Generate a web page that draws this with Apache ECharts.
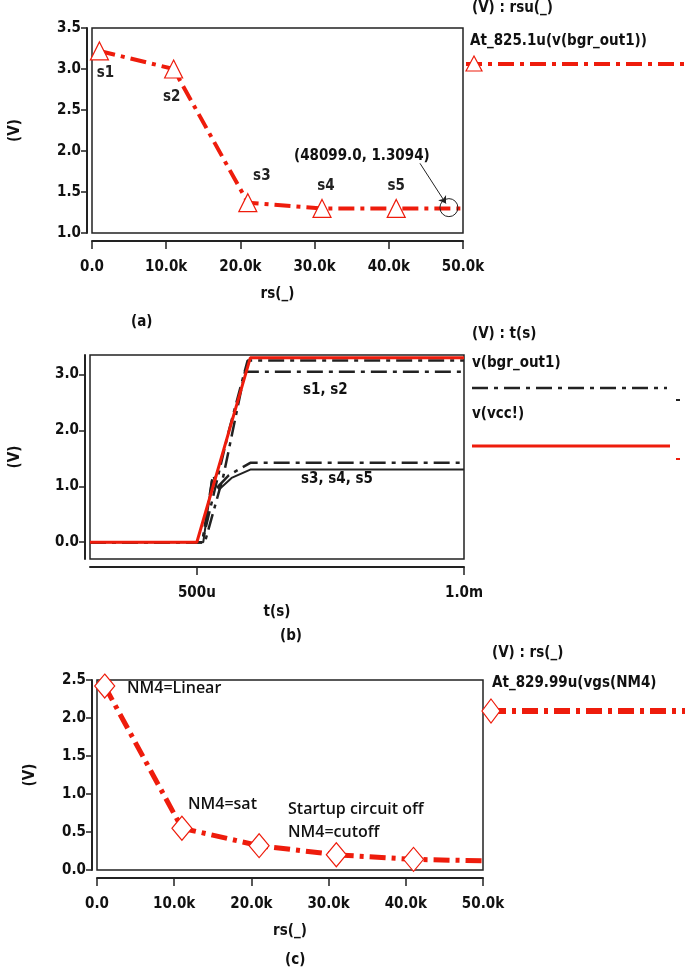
<!DOCTYPE html>
<html>
<head>
<meta charset="utf-8">
<script src="https://cdn.jsdelivr.net/npm/echarts@6/dist/echarts.min.js"></script>
<style>html,body{margin:0;background:#fff}#container{width:685px;height:973px}</style>
</head>
<body>
<div id="container"></div>
<script>
// (a) bandgap output vs rs
let rsA = [1000, 11000, 21000, 31000, 41000, 50000];
let vA = [3.22, 3.0, 1.37, 1.3, 1.3, 1.3];
let namesA = ['s1', 's2', 's3', 's4', 's5', ''];

// (b) transient, time in us
let tVcc = [300, 500, 600, 1000];
let vVcc = [0, 0, 3.3, 3.3];
let tS1 = [300, 510, 560, 595, 1000];
let vS1 = [0, 0, 2.0, 3.25, 3.25];
let tS2 = [300, 515, 550, 590, 1000];
let vS2 = [0, 0, 1.2, 3.05, 3.05];
let tS3 = [300, 510, 530, 540, 560, 600, 1000];
let vS3 = [0, 0, 1.2, 1.0, 1.2, 1.42, 1.42];
let tS4 = [300, 512, 528, 542, 565, 600, 1000];
let vS4 = [0, 0, 1.1, 0.95, 1.15, 1.3, 1.3];

// (c) vgs of NM4 vs rs
let rsC = [1000, 11000, 21000, 31000, 41000, 50000];
let vC = [2.42, 0.55, 0.32, 0.2, 0.14, 0.12];

const RED = '#ee1c0c';
const FONT = "'DejaVu Sans Condensed', 'Liberation Sans', sans-serif";
const dashDot = [16, 6, 4, 6];
const TF = 'bold 15px ' + FONT;

function zip(a, b) { return a.map((x, i) => [x, b[i]]); }
function kfmt(v) { return v === 0 ? '0.0' : (v / 1000).toFixed(1) + 'k'; }

var dom = document.getElementById('container');
var myChart = echarts.init(dom, null, { renderer: 'canvas' });

var axisText = { color: '#111', fontFamily: FONT, fontWeight: 'bold', fontSize: 15 };

function xAx(i, opts) {
    return Object.assign({
        gridIndex: i, type: 'value', offset: 8,
        axisLine: { show: true, onZero: false, lineStyle: { color: '#222', width: 2 } },
        axisTick: { show: true, length: 8, lineStyle: { color: '#222', width: 1.5 } },
        axisLabel: Object.assign({ margin: 19 }, axisText),
        splitLine: { show: false },
        nameLocation: 'middle', nameGap: 46,
        nameTextStyle: axisText
    }, opts);
}
function yAx(i, opts) {
    return Object.assign({
        gridIndex: i, type: 'value', offset: 5,
        axisLine: { show: true, onZero: false, lineStyle: { color: '#222', width: 2 } },
        axisTick: { show: true, length: 6, lineStyle: { color: '#222', width: 1.5 } },
        axisLabel: Object.assign({ margin: 6, formatter: v => v.toFixed(1) }, axisText),
        splitLine: { show: false },
        name: '(V)', nameLocation: 'middle', nameGap: 64, nameRotate: 90,
        nameTextStyle: axisText
    }, opts);
}

var labelPosA = ['bottom', 'bottom', 'top', 'top', 'top', 'top'];
var labelOffA = [[6, 0], [-2, 6], [14, -4], [4, 0], [0, 0], [0, 0]];

var option = {
    animation: false,
    grid: [
        { left: 90, width: 373, top: 28, height: 205, show: true, borderColor: '#222', borderWidth: 1.5 },
        { left: 90, width: 374, top: 355, height: 204, show: true, borderColor: '#222', borderWidth: 1.5 },
        { left: 97, width: 386, top: 680, height: 190, show: true, borderColor: '#222', borderWidth: 1.5 }
    ],
    xAxis: [
        xAx(0, { min: 0, max: 50000, interval: 10000, name: 'rs(_)', axisLabel: Object.assign({ margin: 19, formatter: kfmt }, axisText) }),
        xAx(1, { min: 300, max: 1000, name: 't(s)', nameGap: 38,
            axisTick: { show: true, length: 8, customValues: [500, 1000], lineStyle: { color: '#222', width: 1.5 } },
            axisLabel: Object.assign({ margin: 19, customValues: [500, 1000], formatter: v => v === 500 ? '500u' : '1.0m' }, axisText) }),
        xAx(2, { min: 0, max: 50000, interval: 10000, name: 'rs(_)', nameGap: 46, axisLabel: Object.assign({ margin: 19, formatter: kfmt }, axisText) })
    ],
    yAxis: [
        yAx(0, { min: 1, max: 3.5, interval: 0.5 }),
        yAx(1, { min: -0.3, max: 3.35, nameGap: 62,
            axisTick: { show: true, length: 6, customValues: [0, 1, 2, 3], lineStyle: { color: '#222', width: 1.5 } },
            axisLabel: Object.assign({ margin: 6, customValues: [0, 1, 2, 3], formatter: v => v.toFixed(1) }, axisText) }),
        yAx(2, { min: 0, max: 2.5, interval: 0.5, nameGap: 54 })
    ],
    series: [
        {
            type: 'line', xAxisIndex: 0, yAxisIndex: 0,
            data: rsA.map((x, i) => ({
                value: [x, vA[i]],
                symbol: i < 5 ? 'triangle' : 'none',
                label: { show: i < 5, formatter: namesA[i], position: labelPosA[i], offset: labelOffA[i] }
            })),
            symbolSize: 18,
            itemStyle: { color: '#fff', borderColor: RED, borderWidth: 1.2 },
            lineStyle: { color: RED, width: 4, type: dashDot },
            label: { color: '#222', fontFamily: FONT, fontWeight: 'bold', fontSize: 15 },
            markPoint: {
                symbol: 'circle', symbolSize: 18,
                itemStyle: { color: 'rgba(0,0,0,0)', borderColor: '#222', borderWidth: 1 },
                label: { show: false },
                data: [{ coord: [48099, 1.3094] }]
            },
            markLine: {
                silent: true, symbol: ['none', 'arrow'], symbolSize: 7,
                lineStyle: { color: '#222', width: 1, type: 'solid' },
                label: { show: false },
                data: [[{ coord: [44200, 1.85] }, { coord: [47700, 1.36] }]]
            }
        },
        { type: 'line', xAxisIndex: 1, yAxisIndex: 1, data: zip(tS1, vS1), symbol: 'none', lineStyle: { color: '#222', width: 2.5, type: dashDot } },
        { type: 'line', xAxisIndex: 1, yAxisIndex: 1, data: zip(tS2, vS2), symbol: 'none', lineStyle: { color: '#222', width: 2.5, type: dashDot } },
        { type: 'line', xAxisIndex: 1, yAxisIndex: 1, data: zip(tS3, vS3), symbol: 'none', lineStyle: { color: '#222', width: 2.5, type: dashDot } },
        { type: 'line', xAxisIndex: 1, yAxisIndex: 1, data: zip(tS4, vS4), symbol: 'none', lineStyle: { color: '#222', width: 2 } },
        { type: 'line', xAxisIndex: 1, yAxisIndex: 1, data: zip(tVcc, vVcc), symbol: 'none', lineStyle: { color: RED, width: 3 } },
        {
            type: 'line', xAxisIndex: 2, yAxisIndex: 2,
            data: rsC.map((x, i) => ({ value: [x, vC[i]], symbol: i < 5 ? 'diamond' : 'none' })),
            symbolSize: [20, 24],
            itemStyle: { color: '#fff', borderColor: RED, borderWidth: 1.2 },
            lineStyle: { color: RED, width: 5, type: dashDot }
        }
    ],
    graphic: [
        // panel captions
        { type: 'text', left: 131, top: 315, style: { text: '(a)', font: TF, fill: '#111' } },
        { type: 'text', left: 280, top: 629, style: { text: '(b)', font: TF, fill: '#111' } },
        { type: 'text', left: 285, top: 953, style: { text: '(c)', font: TF, fill: '#111' } },
        // (a) annotation + legend
        { type: 'text', left: 294, top: 149, style: { text: '(48099.0, 1.3094)', font: TF, fill: '#111' } },
        { type: 'text', left: 472, top: 1, style: { text: '(V) : rsu(_)', font: TF, fill: '#111' } },
        { type: 'text', left: 470, top: 34, style: { text: 'At_825.1u(v(bgr_out1))', font: TF, fill: '#111' } },
        { type: 'line', shape: { x1: 466, y1: 64, x2: 685, y2: 64 }, style: { stroke: RED, lineWidth: 4, lineDash: dashDot } },
        { type: 'polygon', shape: { points: [[474, 56], [466, 71], [482, 71]] }, style: { fill: '#fff', stroke: RED, lineWidth: 1.2 } },
        // (b) text + legend
        { type: 'text', left: 303, top: 383, style: { text: 's1, s2', font: TF, fill: '#111' } },
        { type: 'text', left: 301, top: 472, style: { text: 's3, s4, s5', font: TF, fill: '#111' } },
        { type: 'text', left: 472, top: 327, style: { text: '(V) : t(s)', font: TF, fill: '#111' } },
        { type: 'text', left: 472, top: 356, style: { text: 'v(bgr_out1)', font: TF, fill: '#111' } },
        { type: 'line', shape: { x1: 472, y1: 388, x2: 667, y2: 388 }, style: { stroke: '#222', lineWidth: 2.5, lineDash: dashDot } },
        { type: 'line', shape: { x1: 676, y1: 400, x2: 680, y2: 400 }, style: { stroke: '#222', lineWidth: 2 } },
        { type: 'text', left: 472, top: 407, style: { text: 'v(vcc!)', font: TF, fill: '#111' } },
        { type: 'line', shape: { x1: 472, y1: 446, x2: 670, y2: 446 }, style: { stroke: RED, lineWidth: 3 } },
        { type: 'line', shape: { x1: 676, y1: 459, x2: 680, y2: 459 }, style: { stroke: RED, lineWidth: 2 } },
        // (c) texts + legend
        { type: 'text', left: 127, top: 680, style: { text: 'NM4=Linear', font: '600 16px "Open Sans"', fill: '#111' } },
        { type: 'text', left: 188, top: 796, style: { text: 'NM4=sat', font: '600 16px "Open Sans"', fill: '#111' } },
        { type: 'text', left: 288, top: 801, style: { text: 'Startup circuit off', font: '600 16px "Open Sans"', fill: '#111' } },
        { type: 'text', left: 288, top: 824, style: { text: 'NM4=cutoff', font: '600 16px "Open Sans"', fill: '#111' } },
        { type: 'text', left: 492, top: 646, style: { text: '(V) : rs(_)', font: TF, fill: '#111' } },
        { type: 'text', left: 492, top: 676, style: { text: 'At_829.99u(vgs(NM4)', font: TF, fill: '#111' } },
        { type: 'line', shape: { x1: 490, y1: 711, x2: 685, y2: 711 }, style: { stroke: RED, lineWidth: 6, lineDash: dashDot } },
        { type: 'polygon', shape: { points: [[491, 699], [500, 711], [491, 723], [482, 711]] }, style: { fill: '#fff', stroke: RED, lineWidth: 1.2 } }
    ]
};

myChart.setOption(option);
window.addEventListener('resize', myChart.resize);
</script>
</body>
</html>
